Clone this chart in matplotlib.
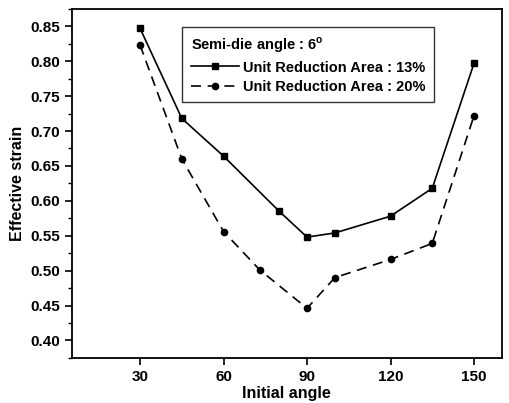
import matplotlib
matplotlib.use("Agg")
import matplotlib.pyplot as plt
from matplotlib.ticker import MultipleLocator

plt.rcParams['font.family'] = ['Liberation Sans', 'DejaVu Sans']
plt.rcParams['font.weight'] = 'bold'

# data
angle_13 = [30, 45, 60, 80, 90, 100, 120, 135, 150]
strain_13 = [0.847, 0.718, 0.664, 0.585, 0.548, 0.554, 0.578, 0.618, 0.797]
angle_20 = [30, 45, 60, 73, 90, 100, 120, 135, 150]
strain_20 = [0.823, 0.660, 0.556, 0.501, 0.446, 0.490, 0.516, 0.539, 0.722]

xticks = [30, 60, 90, 120, 150]

fig = plt.figure(figsize=(5.1, 4.03), dpi=100)
ax = fig.add_axes([0.141, 0.112, 0.843, 0.866])

ax.plot(angle_13, strain_13, color='black', lw=1.2, ls='-', marker='s', ms=4.5,
        label='Unit Reduction Area : 13%')
ax.plot(angle_20, strain_20, color='black', lw=1.2, ls=(0, (6, 4)), marker='o', ms=4.5,
        label='Unit Reduction Area : 20%')

ax.set_xlim(5.5, 160)
ax.set_ylim(0.375, 0.875)
ax.set_xticks(xticks)
ax.yaxis.set_major_locator(MultipleLocator(0.05))
ax.yaxis.set_minor_locator(MultipleLocator(0.025))
ax.yaxis.set_major_formatter(plt.FormatStrFormatter('%.2f'))
ax.tick_params(direction='out', labelsize=11, width=1.2)
ax.tick_params(which='major', length=5)
ax.tick_params(which='minor', length=3, width=1.0)
for lab in ax.get_xticklabels() + ax.get_yticklabels():
    lab.set_fontweight('bold')
for sp in ax.spines.values():
    sp.set_linewidth(1.3)

ax.set_xlabel('Initial angle', fontsize=11.5, fontweight='bold', labelpad=2)
ax.set_ylabel('Effective strain', fontsize=11.5, fontweight='bold', labelpad=4)

leg = ax.legend(title='Semi-die angle : 6$^{\\mathregular{o}}$', loc='upper left',
                bbox_to_anchor=(0.256, 0.948), borderaxespad=0,
                fontsize=10.5, title_fontsize=10.5,
                frameon=True, fancybox=False, edgecolor='black', handlelength=3.3,
                handletextpad=0.3, borderpad=0.6, labelspacing=0.35)
leg._legend_box.align = 'left'
leg.get_frame().set_linewidth(1.0)
leg.get_title().set_fontweight('bold')
for t in leg.get_texts():
    t.set_fontweight('bold')

fig.savefig('out.png', dpi=100)
